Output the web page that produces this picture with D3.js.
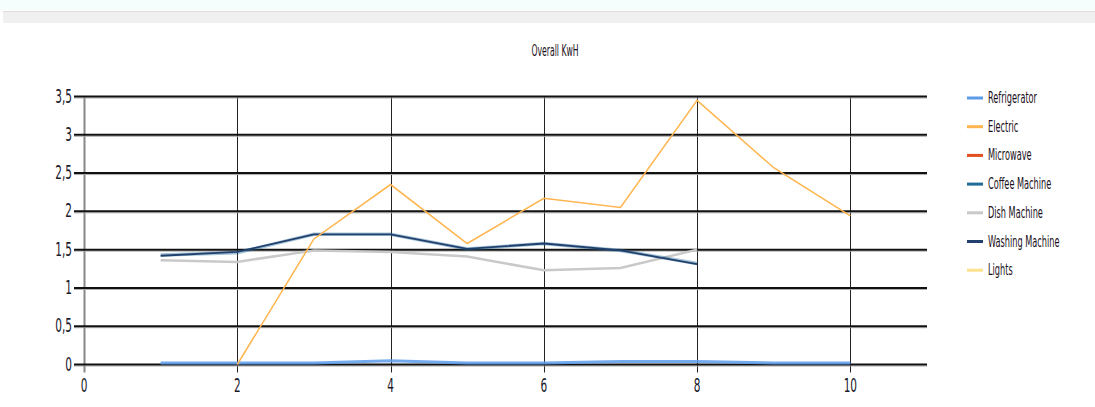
<!DOCTYPE html>
<html><head><meta charset="utf-8">
<script src="https://cdn.jsdelivr.net/npm/d3@7"></script>
<style>
html,body{margin:0;padding:0;background:#fff;}
text{font-family:"Liberation Sans Narrow","Arial Narrow","DejaVu Sans Condensed",sans-serif;}
</style></head>
<body>
<svg id="chart" width="1095" height="407"></svg>
<script>
const title = "Overall KwH";
const xTicks = [0, 2, 4, 6, 8, 10];
const yTicks = [0, 0.5, 1, 1.5, 2, 2.5, 3, 3.5];
const seriesNames = ["Refrigerator", "Electric", "Microwave", "Coffee Machine", "Dish Machine", "Washing Machine", "Lights"];
const seriesColors = ["#5B9BEA", "#FFB54F", "#E3501E", "#1F6B9A", "#C9C9C9", "#22406E", "#FFE08C"];
const refrigerator = [[1,0.02],[2,0.02],[3,0.02],[4,0.05],[5,0.02],[6,0.02],[7,0.04],[8,0.04],[9,0.02],[10,0.02]];
const electric = [[2,0],[3,1.64],[4,2.35],[5,1.58],[6,2.17],[7,2.05],[8,3.45],[9,2.57],[10,1.94]];
const microwave = [];
const coffeeMachine = [[1,1.43],[2,1.46],[3,1.70],[4,1.70],[5,1.51],[6,1.58],[7,1.49],[8,1.32]];
const dishMachine = [[1,1.36],[2,1.34],[3,1.49],[4,1.47],[5,1.41],[6,1.23],[7,1.26],[8,1.50]];
const washingMachine = [[1,1.42],[2,1.47],[3,1.70],[4,1.70],[5,1.51],[6,1.58],[7,1.49],[8,1.31]];
const lights = [];

const seriesData = [refrigerator, electric, microwave, coffeeMachine, dishMachine, washingMachine, lights];

const svg = d3.select("#chart");
// top strip
svg.append("rect").attr("x",0).attr("y",0).attr("width",1095).attr("height",10).attr("fill","#f6fdfd");
svg.append("rect").attr("x",3).attr("y",11).attr("width",1092).attr("height",12).attr("fill","#f0f0f0");
svg.append("line").attr("x1",3).attr("x2",1095).attr("y1",11.5).attr("y2",11.5).attr("stroke","#dcdcdc");

const x = d3.scaleLinear().domain([0, 11]).range([84, 927]);
const y = d3.scaleLinear().domain([0, 3.5]).range([364.5, 96.5]);

svg.append("text").attr("transform","translate(555,56) scale(0.66,1.25)").attr("text-anchor","middle")
  .attr("font-size",13).attr("fill","#1a1020").text(title);

// vertical grid
const gx = svg.append("g");
gx.selectAll("line").data(xTicks.filter(d=>d>0)).join("line")
  .attr("x1",d=>Math.round(x(d))+0.5).attr("x2",d=>Math.round(x(d))+0.5)
  .attr("y1",y(3.5)).attr("y2",y(0)+8).attr("stroke","#222").attr("stroke-width",1);
// left axis
svg.append("line").attr("x1",84.5).attr("x2",84.5).attr("y1",y(3.5)).attr("y2",y(0)+8)
  .attr("stroke","#888").attr("stroke-width",2);
// horizontal grid
const gy = svg.append("g");
gy.selectAll("line.s").data(yTicks).join("line").attr("class","s")
  .attr("x1",74).attr("x2",927).attr("y1",d=>y(d)+1.5).attr("y2",d=>y(d)+1.5)
  .attr("stroke","#aaa").attr("stroke-width",1);
gy.selectAll("line.m").data(yTicks).join("line").attr("class","m")
  .attr("x1",74).attr("x2",927).attr("y1",d=>y(d)).attr("y2",d=>y(d))
  .attr("stroke","#111").attr("stroke-width",2);

// axis labels
svg.append("g").selectAll("text").data(yTicks).join("text")
  .attr("transform",d=>`translate(72,${y(d)+6}) scale(0.78,1.3)`)
  .attr("text-anchor","end").attr("font-size",15).attr("fill","#1a1a2a")
  .text(d=>String(d).replace(".",","));
svg.append("g").selectAll("text").data(xTicks).join("text")
  .attr("transform",d=>`translate(${x(d)},${392}) scale(0.78,1.3)`)
  .attr("text-anchor","middle").attr("font-size",15).attr("fill","#1a1a2a")
  .text(d=>d);

// lines
const line = d3.line().x(d=>x(d[0])).y(d=>y(d[1]));
const widths = [3, 1.5, 2, 3.5, 2.5, 1.8, 1.5];
const opac = [0.85, 1, 1, 0.4, 1, 1, 1];
const order = [4, 3, 5, 0, 2, 6, 1];
order.forEach(i=>{
  if(!seriesData[i].length) return;
  svg.append("path").datum(seriesData[i]).attr("d",line).attr("fill","none")
    .attr("stroke",seriesColors[i]).attr("stroke-width",widths[i]).attr("stroke-opacity",opac[i])
    .attr("stroke-linejoin","miter");
});

// legend
const lg = svg.append("g");
seriesNames.forEach((n,i)=>{
  const yy = 98 + i*28.7;
  lg.append("line").attr("x1",967).attr("x2",983).attr("y1",yy).attr("y2",yy)
    .attr("stroke",seriesColors[i]).attr("stroke-width",3);
  lg.append("text").attr("transform",`translate(988,${yy+5}) scale(0.7,1.25)`)
    .attr("font-size",13).attr("fill","#1a1020").text(n);
});
</script>
</body></html>
